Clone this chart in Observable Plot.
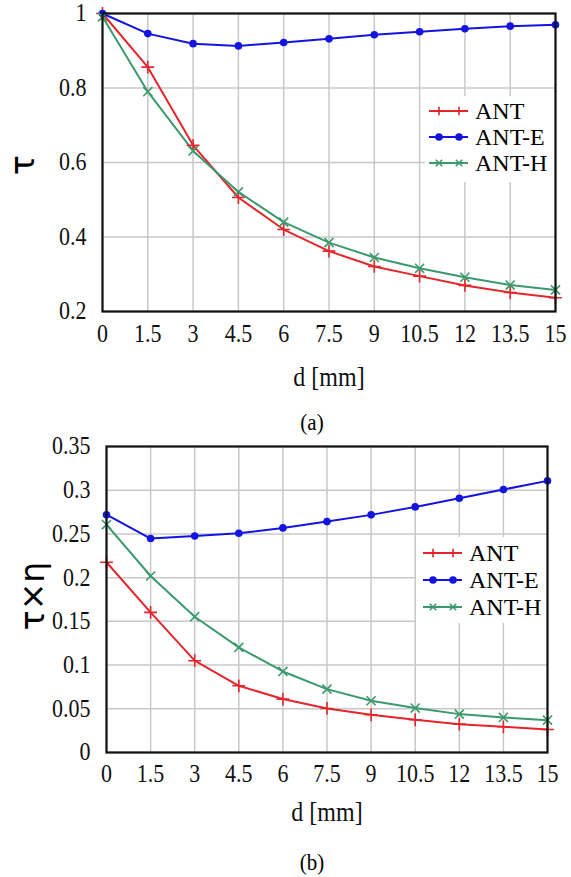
<!DOCTYPE html>
<html>
<head>
<meta charset="utf-8">
<script src="https://cdn.jsdelivr.net/npm/d3@7"></script>
<script src="https://cdn.jsdelivr.net/npm/@observablehq/plot@0.6"></script>
<style>
  body { margin: 0; background: #fff; }
  #wrap { position: relative; width: 571px; height: 877px; font-family: "Liberation Serif", "Times New Roman", serif; }
  .abs { position: absolute; }
  .cap { position: absolute; font-size: 21px; transform: translate(-50%, -50%) scaleY(1.1); white-space: nowrap; }
  .ylab { position: absolute; font-family: "DejaVu Sans", sans-serif; font-size: 33px; transform: translate(-50%, -50%) rotate(-90deg); white-space: nowrap; }
  .legend { position: absolute; background: #fff; }
  .legend .row { position: absolute; left: 0; height: 22px; display: flex; align-items: center; font-size: 24px; line-height: 22px; white-space: nowrap; }
  .legend svg { display: block; margin-right: 7px; }
</style>
</head>
<body>
<div id="wrap"></div>
<script>
// ---- data ----
const dValues = [0, 1.5, 3, 4.5, 6, 7.5, 9, 10.5, 12, 13.5, 15];
const xTicks = [0, 1.5, 3, 4.5, 6, 7.5, 9, 10.5, 12, 13.5, 15];

const seriesNames = ["ANT", "ANT-E", "ANT-H"];
const seriesColors = ["#e3262b", "#1414e0", "#3a9a6c"];
const seriesSymbols = ["plus", "circle", "times"];

// (a) tau
const tauANT  = [1.0, 0.856, 0.646, 0.506, 0.420, 0.362, 0.321, 0.295, 0.270, 0.251, 0.237];
const tauANTE = [1.0, 0.946, 0.919, 0.913, 0.922, 0.932, 0.943, 0.951, 0.959, 0.966, 0.970];
const tauANTH = [0.991, 0.790, 0.631, 0.521, 0.440, 0.385, 0.345, 0.316, 0.292, 0.271, 0.258];
const tauTicks = [0.2, 0.4, 0.6, 0.8, 1];

// (b) tau x eta
const teANT  = [0.2176, 0.1603, 0.105, 0.0763, 0.0611, 0.0504, 0.0431, 0.0374, 0.0324, 0.0294, 0.0263];
const teANTE = [0.272, 0.2447, 0.2477, 0.2508, 0.2569, 0.2641, 0.2718, 0.2809, 0.2908, 0.3008, 0.3107];
const teANTH = [0.2607, 0.2019, 0.1553, 0.1202, 0.0927, 0.0725, 0.0592, 0.0508, 0.0439, 0.0401, 0.037];
const teTicks = [0, 0.05, 0.1, 0.15, 0.2, 0.25, 0.3, 0.35];

function rows(arrs) {
  const out = [];
  arrs.forEach((arr, si) => arr.forEach((v, i) => out.push({d: dValues[i], v, s: seriesNames[si]})));
  return out;
}

function seriesMarks(data) {
  const marks = [];
  seriesNames.forEach((name, si) => {
    const sub = data.filter(r => r.s === name);
    marks.push(Plot.line(sub, {x: "d", y: "v", stroke: seriesColors[si], strokeWidth: 2}));
  });
  seriesNames.forEach((name, si) => {
    const sub = data.filter(r => r.s === name);
    if (seriesSymbols[si] === "circle") {
      marks.push(Plot.dot(sub, {x: "d", y: "v", symbol: "circle", fill: seriesColors[si], r: 3.8}));
    } else {
      marks.push(Plot.dot(sub, {x: "d", y: "v", symbol: seriesSymbols[si], stroke: seriesColors[si], strokeWidth: 1.6, r: 4.2}));
    }
  });
  return marks;
}

function makeChart(cfg) {
  return Plot.plot({
    width: 571,
    height: cfg.height,
    marginLeft: cfg.ml, marginRight: cfg.mr, marginTop: cfg.mt, marginBottom: cfg.mb,
    style: {fontFamily: '"Liberation Serif", "Times New Roman", serif', fontSize: "22px", color: "#111", background: "transparent"},
    x: {domain: [0, 15], ticks: xTicks},
    y: {domain: cfg.domain, ticks: cfg.ticks},
    marks: [
      Plot.gridX(xTicks, {stroke: "#c8c8c8", strokeOpacity: 1, strokeWidth: 1.5}),
      Plot.gridY(cfg.ticks, {stroke: "#c8c8c8", strokeOpacity: 1, strokeWidth: 1.5}),
      ...seriesMarks(cfg.data),
      Plot.frame({stroke: "#111", strokeWidth: 2.2}),
      Plot.axisX(xTicks, {tickSize: 0, tickPadding: cfg.xpad, tickFormat: d => String(d), label: null, fontSize: 22}),
      Plot.axisX([], {label: "d [mm]", labelAnchor: "center", labelArrow: "none", labelOffset: cfg.labOff, fontSize: 24, tickSize: 0}),
      Plot.axisY(cfg.ticks, {tickSize: 0, tickPadding: cfg.ypad, tickFormat: d => String(d), label: null, fontSize: 22})
    ]
  });
}

// stretch svg text slightly in height (reference glyphs are taller than wide)
function stretchText(svg, k) {
  svg.querySelectorAll("text").forEach(t => {
    const b = t.getBBox();
    const cy = b.y + b.height / 2;
    const prev = t.getAttribute("transform") || "";
    t.setAttribute("transform", `${prev} translate(0,${cy}) scale(1,${k}) translate(0,${-cy})`.trim());
  });
}

function legendBox(box, lines) {
  const lg = document.createElement("div");
  lg.className = "legend";
  lg.style.left = box.x + "px"; lg.style.top = box.y + "px";
  lg.style.width = box.w + "px"; lg.style.height = box.h + "px";
  seriesNames.forEach((name, si) => {
    const row = document.createElement("div");
    row.className = "row";
    row.style.left = (lines.x - box.x) + "px";
    row.style.top = (lines.ys[si] - box.y - 11) + "px";
    const c = seriesColors[si];
    let mk = "";
    [10, 30].forEach(cx => {
      if (seriesSymbols[si] === "circle") mk += `<circle cx="${cx}" cy="11" r="3.8" fill="${c}"/>`;
      else if (seriesSymbols[si] === "plus") mk += `<path d="M${cx-4.2},11h8.4M${cx},6.8v8.4" stroke="${c}" stroke-width="1.6"/>`;
      else mk += `<path d="M${cx-3.2},7.8l6.4,6.4M${cx-3.2},14.2l6.4,-6.4" stroke="${c}" stroke-width="1.6"/>`;
    });
    row.innerHTML = `<svg width="${lines.w}" height="22"><line x1="0" y1="11" x2="${lines.w}" y2="11" stroke="${c}" stroke-width="2"/>${mk}</svg><span>${name}</span>`;
    lg.appendChild(row);
  });
  return lg;
}

const wrap = document.getElementById("wrap");

// chart (a)
const chartA = makeChart({
  height: 400, ml: 102, mr: 16, mt: 13, mb: 89,
  domain: [0.2, 1], ticks: tauTicks, data: rows([tauANT, tauANTE, tauANTH]),
  xpad: 14, ypad: 16, labOff: 74
});
chartA.classList.add("abs");
chartA.style.left = "0px"; chartA.style.top = "0px";
wrap.appendChild(chartA);
stretchText(chartA, 1.12);

// chart (b)
const chartB = makeChart({
  height: 410, ml: 106, mr: 24, mt: 16, mb: 88,
  domain: [0, 0.35], ticks: teTicks, data: rows([teANT, teANTE, teANTH]),
  xpad: 13, ypad: 16, labOff: 68
});
chartB.classList.add("abs");
chartB.style.left = "0px"; chartB.style.top = "430px";
wrap.appendChild(chartB);
stretchText(chartB, 1.12);

// y labels
const ya = document.createElement("div"); ya.className = "ylab"; ya.textContent = "τ";
ya.style.left = "22px"; ya.style.top = "165px"; wrap.appendChild(ya);
const yb = document.createElement("div"); yb.className = "ylab"; yb.textContent = "τ×η";
yb.style.left = "32px"; yb.style.top = "596px"; wrap.appendChild(yb);

// legends
wrap.appendChild(legendBox({x: 425, y: 96, w: 129, h: 86}, {x: 429, w: 39, ys: [111, 137, 163]}));
wrap.appendChild(legendBox({x: 416, y: 537, w: 130, h: 86}, {x: 423, w: 39, ys: [553, 580, 607]}));

// captions
const ca = document.createElement("div"); ca.className = "cap"; ca.textContent = "(a)";
ca.style.left = "312px"; ca.style.top = "423px"; wrap.appendChild(ca);
const cb = document.createElement("div"); cb.className = "cap"; cb.textContent = "(b)";
cb.style.left = "312px"; cb.style.top = "863px"; wrap.appendChild(cb);
</script>
</body>
</html>
